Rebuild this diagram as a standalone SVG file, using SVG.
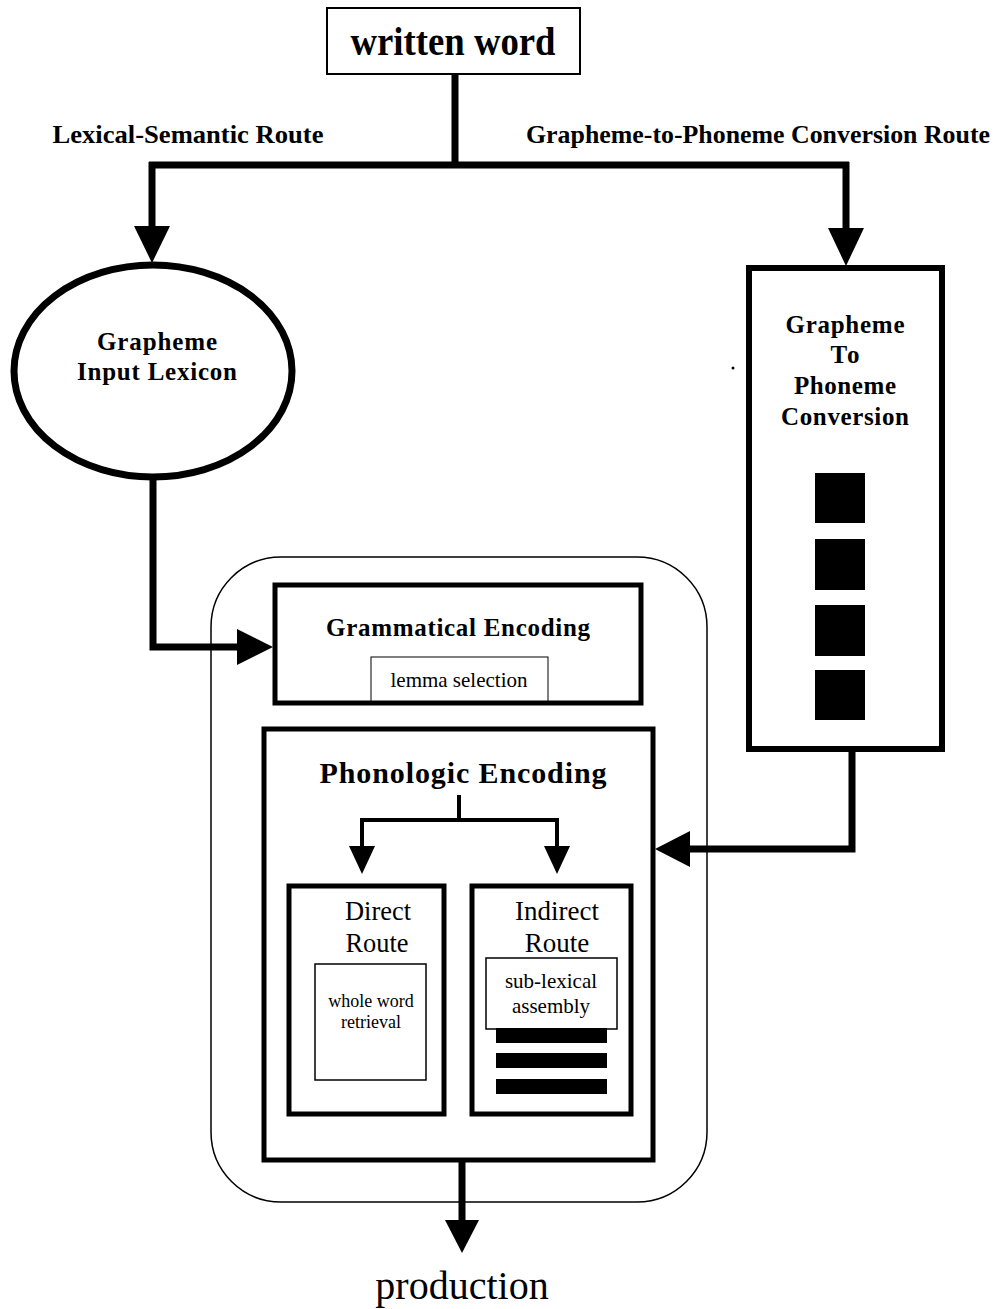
<svg xmlns="http://www.w3.org/2000/svg" width="1008" height="1309" viewBox="0 0 1008 1309">
<style>
.bg{fill:#fff}
.b{fill:#fff;stroke:#000}
.thick{stroke-width:6}
.mid{stroke-width:5}
.thin{stroke-width:1.5}
.con{fill:none;stroke:#000;stroke-linejoin:miter}
.head{fill:#000}
.blk{fill:#000}
.tb{font-family:"Liberation Serif","Times New Roman",serif;font-weight:bold;fill:#000;text-anchor:middle}
.tr{font-family:"Liberation Serif","Times New Roman",serif;fill:#000;text-anchor:middle}
</style>
<rect class="bg" x="0" y="0" width="1008" height="1309"/>

<g id="route-labels">
<text class="tb" x="188" y="143" font-size="26" textLength="271" lengthAdjust="spacingAndGlyphs">Lexical-Semantic Route</text>
<text class="tb" x="758" y="143" font-size="25" textLength="464" lengthAdjust="spacingAndGlyphs">Grapheme-to-Phoneme Conversion Route</text>
</g>

<g id="outer-container">
<rect class="b thin" x="211" y="557" width="496" height="645" rx="70" ry="70"/>
</g>

<g id="written-word">
<rect class="b" stroke-width="2" x="327" y="8" width="253" height="66"/>
<text class="tb" x="453" y="55" font-size="40" textLength="205" lengthAdjust="spacingAndGlyphs">written word</text>
</g>

<g id="grapheme-input-lexicon">
<ellipse class="b" stroke-width="7" cx="153" cy="371" rx="139" ry="106"/>
<text class="tb" x="157" y="350" font-size="25" textLength="120" lengthAdjust="spacing">Grapheme</text>
<text class="tb" x="157" y="380" font-size="25" textLength="160" lengthAdjust="spacing">Input Lexicon</text>
</g>

<g id="gpc">
<rect class="b thick" x="749" y="268" width="193" height="481"/>
<text class="tb" x="845" y="333" font-size="25" textLength="119" lengthAdjust="spacing">Grapheme</text>
<text class="tb" x="845" y="363" font-size="25" textLength="29" lengthAdjust="spacing">To</text>
<text class="tb" x="845" y="394" font-size="25" textLength="102" lengthAdjust="spacing">Phoneme</text>
<text class="tb" x="845" y="425" font-size="25" textLength="128" lengthAdjust="spacing">Conversion</text>
<rect class="blk" x="815" y="473" width="50" height="50"/>
<rect class="blk" x="815" y="539" width="50" height="51"/>
<rect class="blk" x="815" y="605" width="50" height="51"/>
<rect class="blk" x="815" y="670" width="50" height="50"/>
</g>

<g id="grammatical-encoding">
<rect class="b mid" x="275" y="585" width="366" height="118"/>
<text class="tb" x="458" y="636" font-size="25" textLength="264" lengthAdjust="spacing">Grammatical Encoding</text>
<rect class="b" stroke-width="1" x="371" y="657" width="177" height="44"/>
<text class="tr" x="459" y="687" font-size="21" textLength="137" lengthAdjust="spacingAndGlyphs">lemma selection</text>
</g>

<g id="phonologic-encoding">
<rect class="b mid" x="264" y="729" width="389" height="431"/>
<text class="tb" x="463" y="783" font-size="30" textLength="287" lengthAdjust="spacing">Phonologic Encoding</text>
</g>

<g id="direct-route">
<rect class="b mid" x="289" y="886" width="155" height="228"/>
<text class="tr" x="378" y="920" font-size="27" textLength="66" lengthAdjust="spacingAndGlyphs">Direct</text>
<text class="tr" x="377" y="952" font-size="27" textLength="63" lengthAdjust="spacingAndGlyphs">Route</text>
<rect class="b" stroke-width="1.5" x="315" y="964" width="111" height="116"/>
<text class="tr" x="371" y="1007" font-size="18">whole word</text>
<text class="tr" x="371" y="1028" font-size="18">retrieval</text>
</g>

<g id="indirect-route">
<rect class="b mid" x="472" y="886" width="159" height="228"/>
<text class="tr" x="557" y="920" font-size="27">Indirect</text>
<text class="tr" x="557" y="952" font-size="27">Route</text>
<rect class="b" stroke-width="1.5" x="486" y="958" width="131" height="71"/>
<text class="tr" x="551" y="988" font-size="21">sub-lexical</text>
<text class="tr" x="551" y="1013" font-size="21">assembly</text>
<rect class="blk" x="496" y="1028" width="111" height="15"/>
<rect class="blk" x="496" y="1053" width="111" height="15"/>
<rect class="blk" x="496" y="1079" width="111" height="15"/>
</g>

<g id="production">
<text class="tr" x="462" y="1299" font-size="40">production</text>
</g>

<g id="connectors">
<path class="con" stroke-width="7" d="M455,74 V165 M149,165 H849 M152,162 V228 M846,162 V230"/>
<polygon class="head" points="134,226 170,226 152,263"/>
<polygon class="head" points="828,228 864,228 846,266"/>
<path class="con" stroke-width="7" d="M153,477 V647 H240"/>
<polygon class="head" points="237,629 237,665 273,647"/>
<path class="con" stroke-width="7" d="M852,749 V849 H688"/>
<polygon class="head" points="690,831 690,867 655,849"/>
<path class="con" stroke-width="4" d="M459,795 V820 M360,820 H559 M362,818 V848 M557,818 V848"/>
<polygon class="head" points="349,846 375,846 362,874"/>
<polygon class="head" points="544,846 570,846 557,874"/>
<path class="con" stroke-width="7" d="M462,1160 V1222"/>
<polygon class="head" points="445,1220 479,1220 462,1253"/>
</g>

<g id="speck">
<circle class="blk" cx="733" cy="368" r="1.5"/>
</g>
</svg>
